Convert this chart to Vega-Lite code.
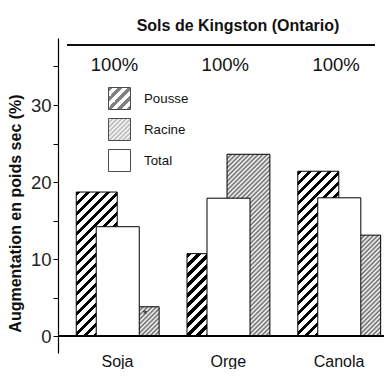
{
  "$schema": "https://vega.github.io/schema/vega-lite/v6.json",
  "width": 326,
  "height": 315,
  "padding": {"left": 7, "top": 18, "right": 0, "bottom": 0},
  "background": "white",
  "title": {
    "text": "Sols de Kingston (Ontario)",
    "font": "Liberation Sans",
    "fontSize": 16,
    "fontWeight": "bold",
    "color": "#111",
    "anchor": "middle",
    "dx": 17,
    "offset": 4
  },
  "params": [
    {
      "name": "pousseStops",
      "value": [
        {"offset": 0, "color": "#000"}, {"offset": 0.018, "color": "#000"}, {"offset": 0.018, "color": "#fff"}, {"offset": 0.04, "color": "#fff"},
        {"offset": 0.04, "color": "#000"}, {"offset": 0.058, "color": "#000"}, {"offset": 0.058, "color": "#fff"}, {"offset": 0.08, "color": "#fff"},
        {"offset": 0.08, "color": "#000"}, {"offset": 0.098, "color": "#000"}, {"offset": 0.098, "color": "#fff"}, {"offset": 0.12, "color": "#fff"},
        {"offset": 0.12, "color": "#000"}, {"offset": 0.138, "color": "#000"}, {"offset": 0.138, "color": "#fff"}, {"offset": 0.16, "color": "#fff"},
        {"offset": 0.16, "color": "#000"}, {"offset": 0.178, "color": "#000"}, {"offset": 0.178, "color": "#fff"}, {"offset": 0.2, "color": "#fff"},
        {"offset": 0.2, "color": "#000"}, {"offset": 0.218, "color": "#000"}, {"offset": 0.218, "color": "#fff"}, {"offset": 0.24, "color": "#fff"},
        {"offset": 0.24, "color": "#000"}, {"offset": 0.258, "color": "#000"}, {"offset": 0.258, "color": "#fff"}, {"offset": 0.28, "color": "#fff"},
        {"offset": 0.28, "color": "#000"}, {"offset": 0.298, "color": "#000"}, {"offset": 0.298, "color": "#fff"}, {"offset": 0.32, "color": "#fff"},
        {"offset": 0.32, "color": "#000"}, {"offset": 0.338, "color": "#000"}, {"offset": 0.338, "color": "#fff"}, {"offset": 0.36, "color": "#fff"},
        {"offset": 0.36, "color": "#000"}, {"offset": 0.378, "color": "#000"}, {"offset": 0.378, "color": "#fff"}, {"offset": 0.4, "color": "#fff"},
        {"offset": 0.4, "color": "#000"}, {"offset": 0.418, "color": "#000"}, {"offset": 0.418, "color": "#fff"}, {"offset": 0.44, "color": "#fff"},
        {"offset": 0.44, "color": "#000"}, {"offset": 0.458, "color": "#000"}, {"offset": 0.458, "color": "#fff"}, {"offset": 0.48, "color": "#fff"},
        {"offset": 0.48, "color": "#000"}, {"offset": 0.498, "color": "#000"}, {"offset": 0.498, "color": "#fff"}, {"offset": 0.52, "color": "#fff"},
        {"offset": 0.52, "color": "#000"}, {"offset": 0.538, "color": "#000"}, {"offset": 0.538, "color": "#fff"}, {"offset": 0.56, "color": "#fff"},
        {"offset": 0.56, "color": "#000"}, {"offset": 0.578, "color": "#000"}, {"offset": 0.578, "color": "#fff"}, {"offset": 0.6, "color": "#fff"},
        {"offset": 0.6, "color": "#000"}, {"offset": 0.618, "color": "#000"}, {"offset": 0.618, "color": "#fff"}, {"offset": 0.64, "color": "#fff"},
        {"offset": 0.64, "color": "#000"}, {"offset": 0.658, "color": "#000"}, {"offset": 0.658, "color": "#fff"}, {"offset": 0.68, "color": "#fff"},
        {"offset": 0.68, "color": "#000"}, {"offset": 0.698, "color": "#000"}, {"offset": 0.698, "color": "#fff"}, {"offset": 0.72, "color": "#fff"},
        {"offset": 0.72, "color": "#000"}, {"offset": 0.738, "color": "#000"}, {"offset": 0.738, "color": "#fff"}, {"offset": 0.76, "color": "#fff"},
        {"offset": 0.76, "color": "#000"}, {"offset": 0.778, "color": "#000"}, {"offset": 0.778, "color": "#fff"}, {"offset": 0.8, "color": "#fff"},
        {"offset": 0.8, "color": "#000"}, {"offset": 0.818, "color": "#000"}, {"offset": 0.818, "color": "#fff"}, {"offset": 0.84, "color": "#fff"},
        {"offset": 0.84, "color": "#000"}, {"offset": 0.858, "color": "#000"}, {"offset": 0.858, "color": "#fff"}, {"offset": 0.88, "color": "#fff"},
        {"offset": 0.88, "color": "#000"}, {"offset": 0.898, "color": "#000"}, {"offset": 0.898, "color": "#fff"}, {"offset": 0.92, "color": "#fff"},
        {"offset": 0.92, "color": "#000"}, {"offset": 0.938, "color": "#000"}, {"offset": 0.938, "color": "#fff"}, {"offset": 0.96, "color": "#fff"},
        {"offset": 0.96, "color": "#000"}, {"offset": 0.978, "color": "#000"}, {"offset": 0.978, "color": "#fff"}, {"offset": 1, "color": "#fff"}
      ]
    },
    {
      "name": "racineStops",
      "value": [
        {"offset": 0, "color": "#666"}, {"offset": 0.009, "color": "#fff"}, {"offset": 0.018, "color": "#666"}, {"offset": 0.027, "color": "#fff"},
        {"offset": 0.036, "color": "#666"}, {"offset": 0.045, "color": "#fff"}, {"offset": 0.054, "color": "#666"}, {"offset": 0.063, "color": "#fff"},
        {"offset": 0.072, "color": "#666"}, {"offset": 0.081, "color": "#fff"}, {"offset": 0.09, "color": "#666"}, {"offset": 0.099, "color": "#fff"},
        {"offset": 0.108, "color": "#666"}, {"offset": 0.117, "color": "#fff"}, {"offset": 0.126, "color": "#666"}, {"offset": 0.135, "color": "#fff"},
        {"offset": 0.144, "color": "#666"}, {"offset": 0.153, "color": "#fff"}, {"offset": 0.162, "color": "#666"}, {"offset": 0.171, "color": "#fff"},
        {"offset": 0.18, "color": "#666"}, {"offset": 0.189, "color": "#fff"}, {"offset": 0.198, "color": "#666"}, {"offset": 0.207, "color": "#fff"},
        {"offset": 0.216, "color": "#666"}, {"offset": 0.225, "color": "#fff"}, {"offset": 0.234, "color": "#666"}, {"offset": 0.243, "color": "#fff"},
        {"offset": 0.252, "color": "#666"}, {"offset": 0.261, "color": "#fff"}, {"offset": 0.27, "color": "#666"}, {"offset": 0.279, "color": "#fff"},
        {"offset": 0.288, "color": "#666"}, {"offset": 0.297, "color": "#fff"}, {"offset": 0.306, "color": "#666"}, {"offset": 0.315, "color": "#fff"},
        {"offset": 0.324, "color": "#666"}, {"offset": 0.333, "color": "#fff"}, {"offset": 0.342, "color": "#666"}, {"offset": 0.351, "color": "#fff"},
        {"offset": 0.36, "color": "#666"}, {"offset": 0.369, "color": "#fff"}, {"offset": 0.378, "color": "#666"}, {"offset": 0.387, "color": "#fff"},
        {"offset": 0.396, "color": "#666"}, {"offset": 0.405, "color": "#fff"}, {"offset": 0.414, "color": "#666"}, {"offset": 0.423, "color": "#fff"},
        {"offset": 0.432, "color": "#666"}, {"offset": 0.441, "color": "#fff"}, {"offset": 0.45, "color": "#666"}, {"offset": 0.459, "color": "#fff"},
        {"offset": 0.468, "color": "#666"}, {"offset": 0.477, "color": "#fff"}, {"offset": 0.486, "color": "#666"}, {"offset": 0.495, "color": "#fff"},
        {"offset": 0.504, "color": "#666"}, {"offset": 0.513, "color": "#fff"}, {"offset": 0.522, "color": "#666"}, {"offset": 0.531, "color": "#fff"},
        {"offset": 0.54, "color": "#666"}, {"offset": 0.549, "color": "#fff"}, {"offset": 0.558, "color": "#666"}, {"offset": 0.567, "color": "#fff"},
        {"offset": 0.576, "color": "#666"}, {"offset": 0.585, "color": "#fff"}, {"offset": 0.594, "color": "#666"}, {"offset": 0.603, "color": "#fff"},
        {"offset": 0.612, "color": "#666"}, {"offset": 0.621, "color": "#fff"}, {"offset": 0.63, "color": "#666"}, {"offset": 0.639, "color": "#fff"},
        {"offset": 0.648, "color": "#666"}, {"offset": 0.657, "color": "#fff"}, {"offset": 0.666, "color": "#666"}, {"offset": 0.675, "color": "#fff"},
        {"offset": 0.684, "color": "#666"}, {"offset": 0.693, "color": "#fff"}, {"offset": 0.702, "color": "#666"}, {"offset": 0.711, "color": "#fff"},
        {"offset": 0.72, "color": "#666"}, {"offset": 0.729, "color": "#fff"}, {"offset": 0.738, "color": "#666"}, {"offset": 0.747, "color": "#fff"},
        {"offset": 0.756, "color": "#666"}, {"offset": 0.765, "color": "#fff"}, {"offset": 0.774, "color": "#666"}, {"offset": 0.783, "color": "#fff"},
        {"offset": 0.792, "color": "#666"}, {"offset": 0.801, "color": "#fff"}, {"offset": 0.81, "color": "#666"}, {"offset": 0.819, "color": "#fff"},
        {"offset": 0.828, "color": "#666"}, {"offset": 0.837, "color": "#fff"}, {"offset": 0.846, "color": "#666"}, {"offset": 0.855, "color": "#fff"},
        {"offset": 0.864, "color": "#666"}, {"offset": 0.873, "color": "#fff"}, {"offset": 0.882, "color": "#666"}, {"offset": 0.891, "color": "#fff"},
        {"offset": 0.9, "color": "#666"}, {"offset": 0.909, "color": "#fff"}, {"offset": 0.918, "color": "#666"}, {"offset": 0.927, "color": "#fff"},
        {"offset": 0.936, "color": "#666"}, {"offset": 0.945, "color": "#fff"}, {"offset": 0.954, "color": "#666"}, {"offset": 0.963, "color": "#fff"},
        {"offset": 0.972, "color": "#666"}, {"offset": 0.981, "color": "#fff"}, {"offset": 0.99, "color": "#666"}, {"offset": 0.999, "color": "#fff"}
      ]
    }
  ],
  "data": {
    "values": [
      {"culture": "Soja", "partie": "Pousse", "valeur": 18.7},
      {"culture": "Soja", "partie": "Racine", "valeur": 3.8, "marque": "*"},
      {"culture": "Soja", "partie": "Total", "valeur": 14.2},
      {"culture": "Orge", "partie": "Pousse", "valeur": 10.7},
      {"culture": "Orge", "partie": "Racine", "valeur": 23.6},
      {"culture": "Orge", "partie": "Total", "valeur": 17.9},
      {"culture": "Canola", "partie": "Pousse", "valeur": 21.4},
      {"culture": "Canola", "partie": "Racine", "valeur": 13.1},
      {"culture": "Canola", "partie": "Total", "valeur": 17.95}
    ]
  },
  "encoding": {
    "x": {
      "field": "culture",
      "type": "nominal",
      "sort": ["Soja", "Orge", "Canola"],
      "title": null,
      "scale": {"paddingInner": 0.445, "paddingOuter": 0.194, "align": 0.669},
      "axis": {
        "title": null,
        "domain": false,
        "ticks": false,
        "labelAngle": 0,
        "labelFont": "Liberation Sans",
        "labelFontSize": 16,
        "labelColor": "#111",
        "labelPadding": 0
      }
    }
  },
  "layer": [
    {
      "transform": [{"filter": "datum.partie === 'Pousse'"}],
      "mark": {
        "type": "bar",
        "stroke": "#000",
        "strokeWidth": 1,
        "fill": {"expr": "{gradient: 'linear', x1: 0, y1: 0, x2: 250 * 41 / (1681 + pow(scale('y', 0) - scale('y', datum.valeur), 2)), y2: 250 * (scale('y', 0) - scale('y', datum.valeur)) / (1681 + pow(scale('y', 0) - scale('y', datum.valeur), 2)), stops: pousseStops}"}
      },
      "encoding": {
        "x": {"field": "culture", "type": "nominal", "sort": ["Soja", "Orge", "Canola"], "title": null, "bandPosition": -0.171},
        "x2": {"field": "culture", "bandPosition": 0.496},
        "y": {
          "field": "valeur",
          "type": "quantitative",
          "scale": {"domain": [-2.2, 38.7], "nice": false, "zero": false},
          "axis": {
            "title": "Augmentation en poids sec (%)",
            "titleFont": "Liberation Sans",
            "titleFontSize": 16,
            "titleFontWeight": "bold",
            "titleColor": "#111",
            "titlePadding": 7,
            "titleY": 175,
            "values": [0, 5, 10, 15, 20, 25, 30, 35],
            "labelExpr": "datum.value % 10 === 0 ? datum.label : ''",
            "labelFont": "Liberation Sans",
            "labelFontSize": 18.5,
            "labelColor": "#222",
            "labelPadding": 2,
            "tickSize": 5,
            "tickColor": "#000",
            "domainColor": "#000",
            "domainWidth": 1.2,
            "grid": false
          }
        },
        "y2": {"datum": 0}
      }
    },
    {
      "transform": [{"filter": "datum.partie === 'Racine'"}],
      "mark": {
        "type": "bar",
        "stroke": "#000",
        "strokeWidth": 1,
        "fill": {"expr": "{gradient: 'linear', x1: 0, y1: 0, x2: 250 * 43 / (1849 + pow(scale('y', 0) - scale('y', datum.valeur), 2)), y2: 250 * (scale('y', 0) - scale('y', datum.valeur)) / (1849 + pow(scale('y', 0) - scale('y', datum.valeur), 2)), stops: racineStops}"}
      },
      "encoding": {
        "x": {"field": "culture", "type": "nominal", "sort": ["Soja", "Orge", "Canola"], "title": null, "bandPosition": 0.48},
        "x2": {"field": "culture", "bandPosition": 1.177},
        "y": {"field": "valeur", "type": "quantitative"},
        "y2": {"datum": 0}
      }
    },
    {
      "transform": [{"filter": "datum.partie === 'Total'"}],
      "mark": {"type": "bar", "stroke": "#000", "strokeWidth": 1, "fill": "#fff"},
      "encoding": {
        "x": {"field": "culture", "type": "nominal", "sort": ["Soja", "Orge", "Canola"], "title": null, "bandPosition": 0.154},
        "x2": {"field": "culture", "bandPosition": 0.854},
        "y": {"field": "valeur", "type": "quantitative"},
        "y2": {"datum": 0}
      }
    },
    {
      "mark": {"type": "rule", "stroke": "#000", "strokeWidth": 1.3},
      "encoding": {"x": null, "y": {"datum": 0}}
    },
    {
      "mark": {"type": "rule", "stroke": "#111", "strokeWidth": 1.5},
      "encoding": {
        "y": {"datum": 37.8},
        "x": {"datum": "Soja", "bandPosition": -0.321},
        "x2": {"datum": "Canola", "bandPosition": 1.085}
      }
    },
    {
      "data": {"values": [
        {"culture": "Soja", "note": "100%"},
        {"culture": "Orge", "note": "100%"},
        {"culture": "Canola", "note": "100%"}
      ]},
      "mark": {"type": "text", "font": "Liberation Sans", "fontSize": 18.5, "color": "#111", "baseline": "middle", "dx": -3},
      "encoding": {
        "y": {"datum": 35.2},
        "text": {"field": "note"}
      }
    },
    {
      "transform": [{"filter": "datum.marque"}],
      "mark": {"type": "text", "font": "Liberation Sans", "fontSize": 11, "color": "#222", "baseline": "top", "dx": 7, "dy": 2},
      "encoding": {
        "x": {"field": "culture", "type": "nominal", "sort": ["Soja", "Orge", "Canola"], "title": null, "bandPosition": 0.833},
        "y": {"field": "valeur", "type": "quantitative"},
        "text": {"field": "marque"}
      }
    },
    {
      "transform": [{"filter": "false"}],
      "mark": {"type": "square", "filled": true},
      "encoding": {
        "fill": {
          "field": "partie",
          "type": "nominal",
          "title": null,
          "scale": {
            "domain": ["Pousse", "Racine", "Total"],
            "range": [
              {"expr": "{gradient: 'linear', x1: 0, y1: 0, x2: 250 / 44, y2: 250 / 44, stops: pousseStops}"},
              {"expr": "{gradient: 'linear', x1: 0, y1: 0, x2: 250 / 44, y2: 250 / 44, stops: racineStops}"},
              "#fff"
            ]
          },
          "legend": {
            "orient": "none",
            "legendX": 50,
            "legendY": 49,
            "title": null,
            "padding": 0,
            "symbolType": "square",
            "symbolSize": 484,
            "symbolStrokeWidth": 1,
            "symbolOpacity": 1,
            "labelFont": "Liberation Sans",
            "labelFontSize": 13.3,
            "labelColor": "#111",
            "labelOffset": 13,
            "rowPadding": 4
          }
        },
        "stroke": {
          "field": "partie",
          "type": "nominal",
          "title": null,
          "scale": {"domain": ["Pousse", "Racine", "Total"], "range": ["#000", "#000", "#000"]}
        }
      }
    }
  ],
  "config": {"view": {"stroke": null}}
}
